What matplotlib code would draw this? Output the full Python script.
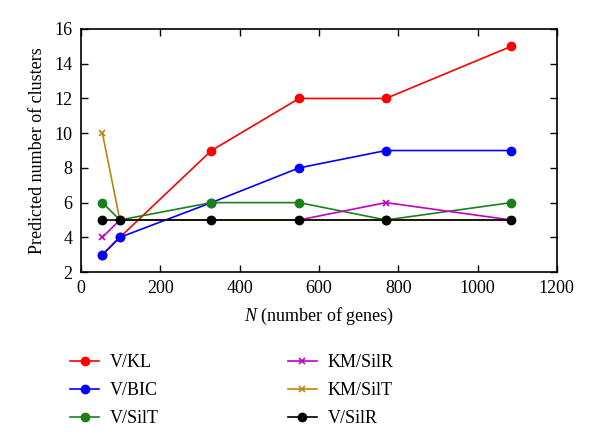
import matplotlib
matplotlib.use('Agg')
import matplotlib.pyplot as plt

plt.rcParams['font.family'] = ['Liberation Serif', 'DejaVu Serif']
plt.rcParams['mathtext.fontset'] = 'custom'
plt.rcParams['mathtext.it'] = 'Liberation Serif:italic'

# number of genes
n_genes = [54, 98, 329, 550, 769, 1085]

# predicted number of clusters per method
v_kl = [3, 4, 9, 12, 12, 15]
v_bic = [3, 4, 6, 8, 9, 9]
v_silt = [6, 5, 6, 6, 5, 6]
km_silr = [4, 5, 5, 5, 6, 5]
km_silt = [10, 5, 5, 5, 5, 5]
v_silr = [5, 5, 5, 5, 5, 5]

fig = plt.figure(figsize=(6, 4.46), dpi=100)
ax = fig.add_axes([0.135, 0.39, 0.793, 0.545])

ax.plot(n_genes, v_kl, color='#ff0000', marker='o', ms=6, lw=1.2, label='V/KL')
ax.plot(n_genes, v_bic, color='#0000ff', marker='o', ms=6, lw=1.2, label='V/BIC')
ax.plot(n_genes, v_silt, color='#1a801a', marker='o', ms=6, lw=1.2, label='V/SilT')
ax.plot(n_genes, km_silr, color='#c000c0', marker='x', ms=4.5, mew=1.2, lw=1.2, label='KM/SilR')
ax.plot(n_genes, km_silt, color='#b8860b', marker='x', ms=4.5, mew=1.2, lw=1.2, label='KM/SilT')
ax.plot(n_genes, v_silr, color='black', marker='o', ms=6, lw=1.2, label='V/SilR')

ax.set_xlim(0, 1200)
ax.set_ylim(2, 16)
ax.set_xticks(range(0, 1201, 200))
ax.set_yticks(range(2, 17, 2))
ax.tick_params(direction='in', top=True, right=True, length=5, width=1, labelsize=13, pad=6)
for s in ax.spines.values():
    s.set_linewidth(1.2)

ax.set_xlabel(r'$N$ (number of genes)', fontsize=13, labelpad=6)
ax.set_ylabel('Predicted number of clusters', fontsize=13, labelpad=6)

fig.legend(loc='upper left', bbox_to_anchor=(0.105, 0.222), ncol=2, frameon=False,
           fontsize=13, handlelength=1.6, columnspacing=7.15, labelspacing=0.6,
           handletextpad=0.6, borderaxespad=0)

fig.savefig('out.png', dpi=100)
